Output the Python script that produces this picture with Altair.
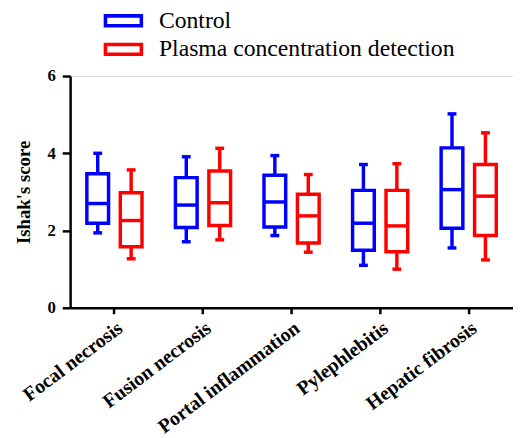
import altair as alt
import pandas as pd

categories = ["Focal necrosis", "Fusion necrosis", "Portal inflammation", "Pylephlebitis", "Hepatic fibrosis"]
groups = ["Control", "Plasma concentration detection"]

# [lower whisker, Q1, median, Q3, upper whisker] per category
control_lo  = [1.94, 1.71, 1.87, 1.10, 1.55]
control_q1  = [2.19, 2.08, 2.09, 1.49, 2.06]
control_med = [2.70, 2.66, 2.74, 2.19, 3.06]
control_q3  = [3.47, 3.37, 3.43, 3.04, 4.14]
control_hi  = [4.00, 3.91, 3.94, 3.71, 5.02]

plasma_lo  = [1.27, 1.76, 1.44, 1.00, 1.24]
plasma_q1  = [1.58, 2.13, 1.68, 1.45, 1.87]
plasma_med = [2.26, 2.72, 2.38, 2.12, 2.89]
plasma_q3  = [2.98, 3.54, 2.94, 3.04, 3.71]
plasma_hi  = [3.57, 4.13, 3.45, 3.73, 4.53]

rows = []
for i, c in enumerate(categories):
    rows.append(dict(cat=c, group=groups[0], lo=control_lo[i], q1=control_q1[i], med=control_med[i], q3=control_q3[i], hi=control_hi[i]))
    rows.append(dict(cat=c, group=groups[1], lo=plasma_lo[i], q1=plasma_q1[i], med=plasma_med[i], q3=plasma_q3[i], hi=plasma_hi[i]))
df = pd.DataFrame(rows)
df["grp2"] = df["group"]

FONT = "Liberation Serif"
SW = 3.5
COLORS = ["#0000FF", "#FF0000"]

# hollow rectangle symbol (outer rect with an inner hole)
RING = "M-2,-0.68H2V0.68H-2Z M-1.64,-0.32V0.32H1.64V-0.32Z"

legend = alt.Legend(
    title=None, orient="none", legendX=42, legendY=-68,
    symbolType=RING, symbolSize=400, symbolStrokeWidth=0,
    labelFont=FONT, labelFontSize=24, labelColor="black",
    labelOffset=24, rowPadding=5, labelLimit=0,
)
stroke = alt.Stroke("group:N", scale=alt.Scale(domain=groups, range=COLORS), legend=legend)
color = alt.Color("grp2:N", scale=alt.Scale(domain=groups, range=COLORS), legend=None)

x = alt.X("cat:N", sort=categories, scale=alt.Scale(paddingInner=0, paddingOuter=0),
          axis=alt.Axis(title=None, labelAngle=-37, labelFont=FONT, labelFontSize=20, labelFontWeight="bold",
                        labelColor="black", domainColor="black", domainWidth=2.5, tickColor="black",
                        tickWidth=2.5, tickSize=6, labelPadding=4, labelAlign="right", labelBaseline="top",
                        labelLimit=0))
xoff = alt.XOffset("group:N", sort=groups, scale=alt.Scale(paddingInner=0, paddingOuter=0.324))

base = alt.Chart(df).encode(x=x, xOffset=xoff)

y_axis = alt.Axis(title="Ishak's score", values=[0, 2, 4, 6], grid=False, labelFont=FONT, labelFontSize=17,
                  labelFontWeight="bold", labelColor="black", titleFont=FONT, titleFontSize=19,
                  titleFontWeight="bold", titleColor="black", domainColor="black", domainWidth=2.5,
                  tickColor="black", tickWidth=2.5, tickSize=8, labelPadding=7, titlePadding=14)
yscale = alt.Scale(domain=[0, 6], nice=False)

box = base.mark_bar(filled=False, strokeWidth=SW, size=22).encode(y=alt.Y("q1:Q", scale=yscale, axis=y_axis), y2="q3:Q", stroke=stroke)
w_low = base.mark_rule(strokeWidth=SW).encode(y=alt.Y("lo:Q", scale=yscale), y2="q1:Q", stroke=stroke)
w_high = base.mark_rule(strokeWidth=SW).encode(y=alt.Y("q3:Q", scale=yscale), y2="hi:Q", stroke=stroke)
med = base.mark_tick(thickness=SW, size=22, opacity=1).encode(y=alt.Y("med:Q", scale=yscale), color=color)
cap_lo = base.mark_tick(thickness=SW, size=9, opacity=1).encode(y=alt.Y("lo:Q", scale=yscale), color=color)
cap_hi = base.mark_tick(thickness=SW, size=9, opacity=1).encode(y=alt.Y("hi:Q", scale=yscale), color=color)

chart = alt.layer(box, w_low, w_high, med, cap_lo, cap_hi).properties(
    width=449, height=235,
    autosize=alt.AutoSizeParams(type="none"),
    padding={"left": 63, "top": 66, "right": 0, "bottom": 128},
).configure_view(stroke=None).configure(background="white")

chart.save("out.html", embed_options={"renderer": "svg", "actions": False})
